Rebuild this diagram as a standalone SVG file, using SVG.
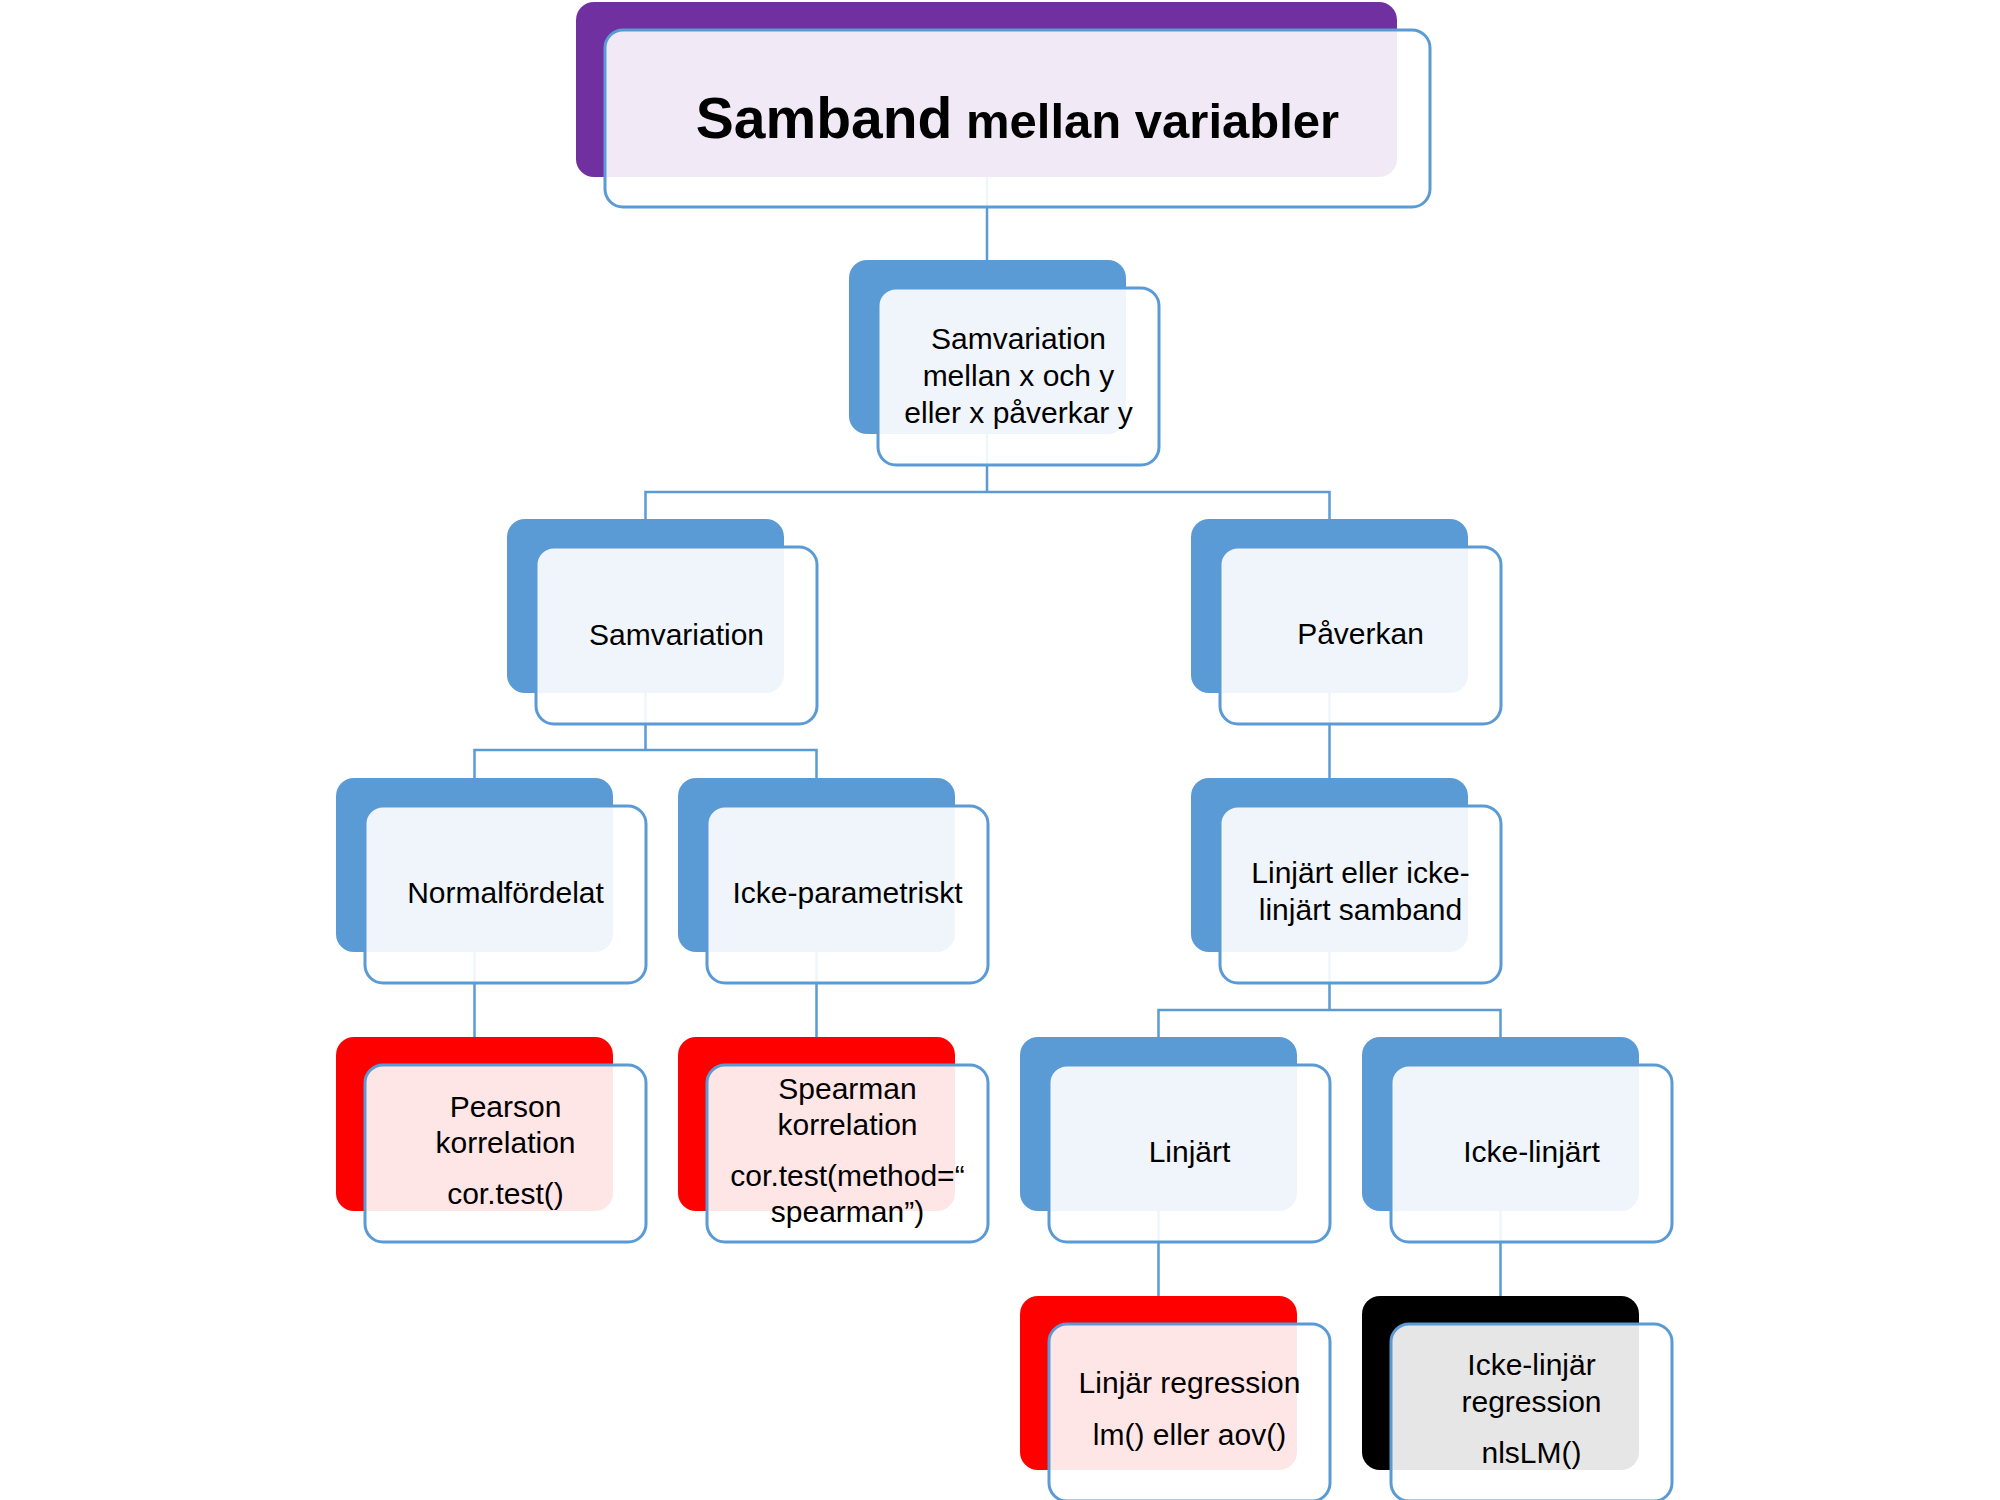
<svg xmlns="http://www.w3.org/2000/svg" width="2000" height="1500" viewBox="0 0 2000 1500">
<style>
.bk{stroke:none}
.blue{fill:#5b9bd5}
.red{fill:#ff0000}
.black{fill:#000000}
.purple{fill:#7030a0}
.front{fill:#ffffff;fill-opacity:0.9;stroke:#5b9bd5;stroke-width:3}
.conn{fill:none;stroke:#5b9bd5;stroke-width:2.5}
text{font-family:"Liberation Sans",Arial,sans-serif;font-size:30px;fill:#000;text-anchor:middle}
.title{font-weight:bold}
</style>
<rect width="2000" height="1500" fill="#ffffff"/>
<g id="connectors">
<path class="conn" d="M987 177 V260"/>
<path class="conn" d="M987 434 V492 M645.5 519 V492 H1329.5 V519"/>
<path class="conn" d="M645.5 693 V750 M474.5 778 V750 H816.5 V778"/>
<path class="conn" d="M1329.5 693 V778"/>
<path class="conn" d="M474.5 952 V1037 M816.5 952 V1037"/>
<path class="conn" d="M1329.5 952 V1010 M1158.5 1037 V1010 H1500.5 V1037"/>
<path class="conn" d="M1158.5 1211 V1296 M1500.5 1211 V1296"/>
</g>
<g id="title">
<rect class="bk purple" x="576" y="2" width="821" height="175" rx="18"/>
<rect class="front" x="605" y="30" width="825" height="177" rx="18"/>
<text class="title" x="1017.5" y="138"><tspan font-size="57">Samband</tspan><tspan font-size="49"> mellan variabler</tspan></text>
</g>
<g id="n-samvariation-xy">
<rect class="bk blue" x="849" y="260" width="277" height="174" rx="18"/>
<rect class="front" x="878" y="288" width="281" height="177" rx="18"/>
<text x="1018.5" y="349">Samvariation</text>
<text x="1018.5" y="386">mellan x och y</text>
<text x="1018.5" y="423">eller x påverkar y</text>
</g>
<g id="n-samvariation">
<rect class="bk blue" x="507" y="519" width="277" height="174" rx="18"/>
<rect class="front" x="536" y="547" width="281" height="177" rx="18"/>
<text x="676.5" y="645">Samvariation</text>
</g>
<g id="n-paverkan">
<rect class="bk blue" x="1191" y="519" width="277" height="174" rx="18"/>
<rect class="front" x="1220" y="547" width="281" height="177" rx="18"/>
<text x="1360.5" y="644">Påverkan</text>
</g>
<g id="n-normalfordelat">
<rect class="bk blue" x="336" y="778" width="277" height="174" rx="18"/>
<rect class="front" x="365" y="806" width="281" height="177" rx="18"/>
<text x="505.5" y="903">Normalfördelat</text>
</g>
<g id="n-ickeparametriskt">
<rect class="bk blue" x="678" y="778" width="277" height="174" rx="18"/>
<rect class="front" x="707" y="806" width="281" height="177" rx="18"/>
<text x="847.5" y="903">Icke-parametriskt</text>
</g>
<g id="n-linjart-eller">
<rect class="bk blue" x="1191" y="778" width="277" height="174" rx="18"/>
<rect class="front" x="1220" y="806" width="281" height="177" rx="18"/>
<text x="1360.5" y="883">Linjärt eller icke-</text>
<text x="1360.5" y="920">linjärt samband</text>
</g>
<g id="n-pearson">
<rect class="bk red" x="336" y="1037" width="277" height="174" rx="18"/>
<rect class="front" x="365" y="1065" width="281" height="177" rx="18"/>
<text x="505.5" y="1117">Pearson</text>
<text x="505.5" y="1153">korrelation</text>
<text x="505.5" y="1204">cor.test()</text>
</g>
<g id="n-spearman">
<rect class="bk red" x="678" y="1037" width="277" height="174" rx="18"/>
<rect class="front" x="707" y="1065" width="281" height="177" rx="18"/>
<text x="847.5" y="1099">Spearman</text>
<text x="847.5" y="1135">korrelation</text>
<text x="847.5" y="1186">cor.test(method=“</text>
<text x="847.5" y="1222">spearman”)</text>
</g>
<g id="n-linjart">
<rect class="bk blue" x="1020" y="1037" width="277" height="174" rx="18"/>
<rect class="front" x="1049" y="1065" width="281" height="177" rx="18"/>
<text x="1189.5" y="1162">Linjärt</text>
</g>
<g id="n-ickelinjart">
<rect class="bk blue" x="1362" y="1037" width="277" height="174" rx="18"/>
<rect class="front" x="1391" y="1065" width="281" height="177" rx="18"/>
<text x="1531.5" y="1162">Icke-linjärt</text>
</g>
<g id="n-linjar-regression">
<rect class="bk red" x="1020" y="1296" width="277" height="174" rx="18"/>
<rect class="front" x="1049" y="1324" width="281" height="177" rx="18"/>
<text x="1189.5" y="1393">Linjär regression</text>
<text x="1189.5" y="1445">lm() eller aov()</text>
</g>
<g id="n-ickelinjar-regression">
<rect class="bk black" x="1362" y="1296" width="277" height="174" rx="18"/>
<rect class="front" x="1391" y="1324" width="281" height="177" rx="18"/>
<text x="1531.5" y="1375">Icke-linjär</text>
<text x="1531.5" y="1412">regression</text>
<text x="1531.5" y="1463">nlsLM()</text>
</g>
</svg>
